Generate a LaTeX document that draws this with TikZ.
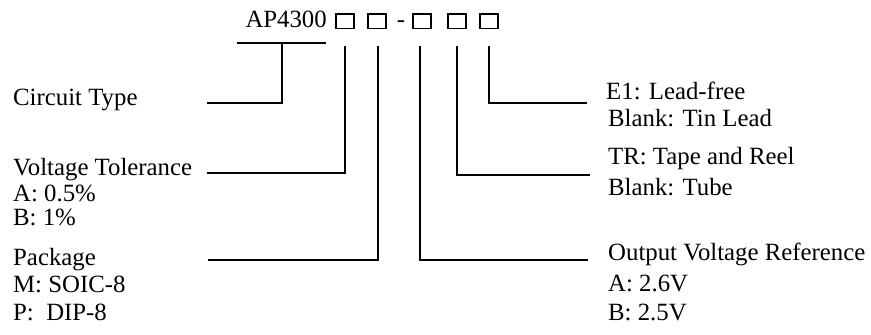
\documentclass[tikz,border=0pt]{standalone}
\usepackage{fontspec}
\setmainfont{Liberation Serif}
\begin{document}
\begin{tikzpicture}[x=1pt,y=-1pt,
  lbl/.style={anchor=base west,inner sep=0pt,font=\fontsize{24.8}{29}\selectfont},
  digit/.style={draw,line width=1.5pt,minimum width=18pt,minimum height=14.5pt,inner sep=0pt},
  lead/.style={line width=2pt}]
\useasboundingbox (0,0) rectangle (871,335);
% part number
\node[lbl,anchor=base east] (pn) at (327,27) {AP4300};
\node[digit] (b1) at (345,21) {};
\node[digit] (b2) at (377,21) {};
\node[lbl,anchor=base] (dash) at (401,27) {-};
\node[digit] (b3) at (422,21) {};
\node[digit] (b4) at (457,21) {};
\node[digit] (b5) at (489,21) {};
% left labels
\node[lbl] (ct) at (13,105) {Circuit Type};
\node[lbl] (vt) at (13,175) {Voltage Tolerance};
\node[lbl] (vta) at (13,201) {A: 0.5\%};
\node[lbl] (vtb) at (13,225) {B: 1\%};
\node[lbl] (pk) at (13,265) {Package};
\node[lbl] (pkm) at (13,292) {M: SOIC-8};
\node[lbl] (pkp) at (13,320) {P:\ \ DIP-8};
% right labels
\node[lbl] (lf) at (606,99) {E1: Lead-free};
\node[lbl] (lfb) at (608,126) {Blank: Tin Lead};
\node[lbl] (tr) at (608,164) {TR: Tape and Reel};
\node[lbl] (trb) at (608,195) {Blank: Tube};
\node[lbl] (ov) at (608,260) {Output Voltage Reference};
\node[lbl] (ova) at (608,291) {A: 2.6V};
\node[lbl] (ovb) at (608,320) {B: 2.5V};
% connector points
\coordinate (u1) at (237,43);
\coordinate (u2) at (326,43);
\coordinate (u0) at (282,43);
\coordinate (e0) at (207,103);
\coordinate (t1) at (345,46);
\coordinate (e1) at (207,173);
\coordinate (t2) at (378,46);
\coordinate (e2) at (208,260);
\coordinate (t3) at (420,46);
\coordinate (e3) at (588,260);
\coordinate (t4) at (457,46);
\coordinate (e4) at (590,175);
\coordinate (t5) at (489,46);
\coordinate (e5) at (587,103);
% connectors
\draw[lead] (u1) -- (u2);
\draw[lead] (u0) |- (e0);
\draw[lead] (t1) |- (e1);
\draw[lead] (t2) |- (e2);
\draw[lead] (t3) |- (e3);
\draw[lead] (t4) |- (e4);
\draw[lead] (t5) |- (e5);
\end{tikzpicture}
\end{document}
